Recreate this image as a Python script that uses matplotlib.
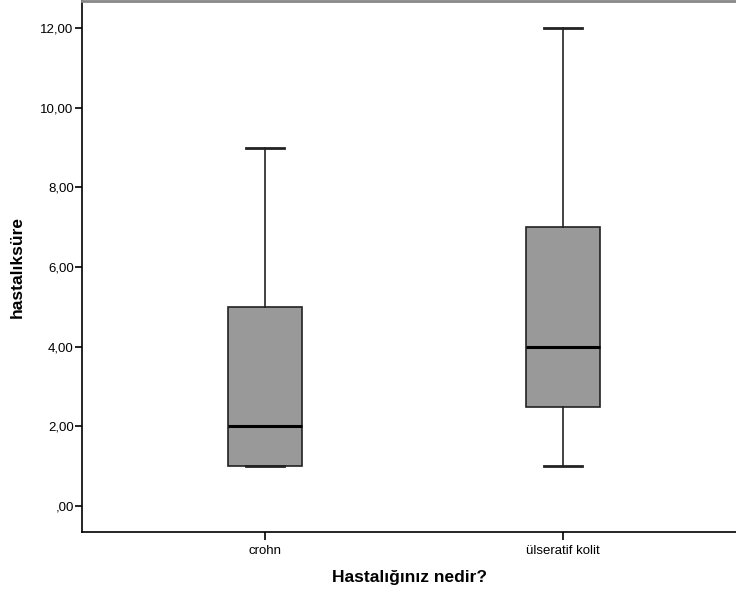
import matplotlib.pyplot as plt

plt.rcParams['font.family'] = ['Liberation Sans', 'DejaVu Sans']

# Kutu grafiği istatistikleri
gruplar = ['crohn', 'ülseratif kolit']
alt_biyik = [1.0, 1.0]
q1 = [1.0, 2.5]
medyan = [2.0, 4.0]
q3 = [5.0, 7.0]
ust_biyik = [9.0, 12.0]

y_ticks = [0, 2, 4, 6, 8, 10, 12]
y_etiketler = [',00', '2,00', '4,00', '6,00', '8,00', '10,00', '12,00']

istatistikler = []
for i, g in enumerate(gruplar):
    istatistikler.append({
        'label': g, 'whislo': alt_biyik[i], 'q1': q1[i], 'med': medyan[i],
        'q3': q3[i], 'whishi': ust_biyik[i], 'fliers': [],
    })

fig = plt.figure(figsize=(7.36, 5.94), dpi=100)
ax = fig.add_axes([82 / 736, 62 / 594, 1 - 82 / 736, 1 - 62 / 594 - 1 / 594])

ax.bxp(istatistikler, positions=[1, 2], widths=0.25, patch_artist=True,
       boxprops=dict(facecolor='#999999', edgecolor='#222222', linewidth=1.2),
       medianprops=dict(color='black', linewidth=2.2),
       whiskerprops=dict(color='#222222', linewidth=1.2),
       capprops=dict(color='#222222', linewidth=2),
       capwidths=0.13)

ax.set_xlim(0.386, 2.58)
ax.set_ylim(-0.65, 12.68)
ax.set_yticks(y_ticks)
ax.set_yticklabels(y_etiketler, fontsize=9.5)
ax.set_xticks([1, 2])
ax.set_xticklabels(gruplar, fontsize=9.5)
ax.tick_params(axis='y', length=5, width=1.2, direction='out', pad=1)
ax.tick_params(axis='x', length=6, width=1.2, direction='out', pad=3)

ax.spines['right'].set_visible(False)
ax.spines['top'].set_color('#888888')
ax.spines['top'].set_linewidth(2)
ax.spines['left'].set_linewidth(1.2)
ax.spines['bottom'].set_linewidth(1.2)

ax.set_xlabel('Hastalığınız nedir?', fontsize=12.5, fontweight='bold', labelpad=10)
ax.set_ylabel('hastalıksüre', fontsize=12.5, fontweight='bold', labelpad=11)

fig.savefig('out.png', dpi=100)
